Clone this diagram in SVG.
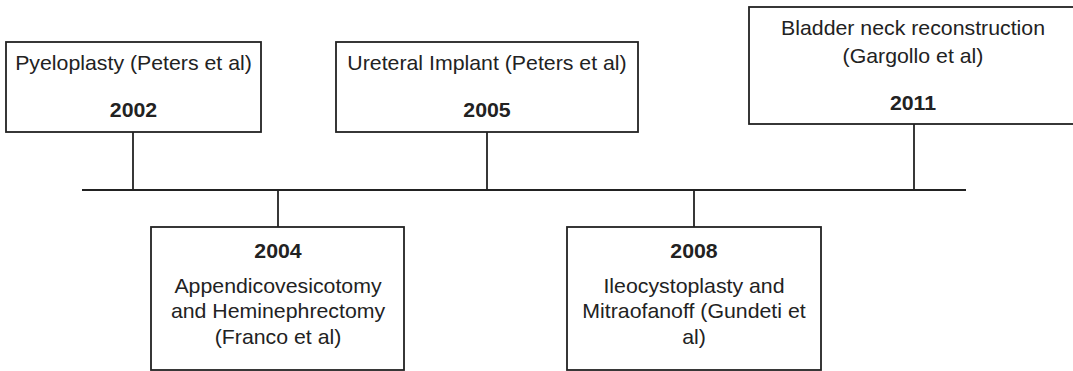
<svg xmlns="http://www.w3.org/2000/svg" width="1073" height="371" viewBox="0 0 1073 371">
  <style>
    .box { fill: #fff; stroke: #222; stroke-width: 1.8; }
    .line { stroke: #222; stroke-width: 1.8; fill: none; }
    text { font-family: "Liberation Sans", Arial, sans-serif; font-size: 20px; fill: #222; text-anchor: middle; }
    .yr { font-weight: bold; }
  </style>
  <rect width="1073" height="371" fill="#fff"/>
  <g id="connectors">
    <line class="line" x1="82" y1="190" x2="966" y2="190"/>
    <line class="line" x1="133" y1="132" x2="133" y2="190"/>
    <line class="line" x1="487" y1="132" x2="487" y2="190"/>
    <line class="line" x1="914" y1="124" x2="914" y2="190"/>
    <line class="line" x1="278" y1="190" x2="278" y2="227"/>
    <line class="line" x1="694" y1="190" x2="694" y2="227"/>
  </g>
  <g id="node-2002">
    <rect class="box" x="6" y="42" width="255" height="90"/>
    <g transform="translate(133.5 0) scale(1.065 1)">
      <text x="0" y="70">Pyeloplasty (Peters et al)</text>
      <text class="yr" x="0" y="117">2002</text>
    </g>
  </g>
  <g id="node-2005">
    <rect class="box" x="336" y="42" width="302" height="90"/>
    <g transform="translate(487 0) scale(1.065 1)">
      <text x="0" y="70">Ureteral Implant (Peters et al)</text>
      <text class="yr" x="0" y="117">2005</text>
    </g>
  </g>
  <g id="node-2011">
    <rect class="box" x="749" y="7" width="332" height="117"/>
    <g transform="translate(913 0) scale(1.065 1)">
      <text x="0" y="35">Bladder neck reconstruction</text>
      <text x="0" y="63">(Gargollo et al)</text>
      <text class="yr" x="0" y="110">2011</text>
    </g>
  </g>
  <g id="node-2004">
    <rect class="box" x="151" y="227" width="253" height="143"/>
    <g transform="translate(278 0) scale(1.065 1)">
      <text class="yr" x="0" y="258">2004</text>
      <text x="0" y="293">Appendicovesicotomy</text>
      <text x="0" y="318">and Heminephrectomy</text>
      <text x="0" y="344">(Franco et al)</text>
    </g>
  </g>
  <g id="node-2008">
    <rect class="box" x="567" y="227" width="254" height="143"/>
    <g transform="translate(694 0) scale(1.065 1)">
      <text class="yr" x="0" y="258">2008</text>
      <text x="0" y="293">Ileocystoplasty and</text>
      <text x="0" y="318">Mitraofanoff (Gundeti et</text>
      <text x="0" y="344">al)</text>
    </g>
  </g>
</svg>
